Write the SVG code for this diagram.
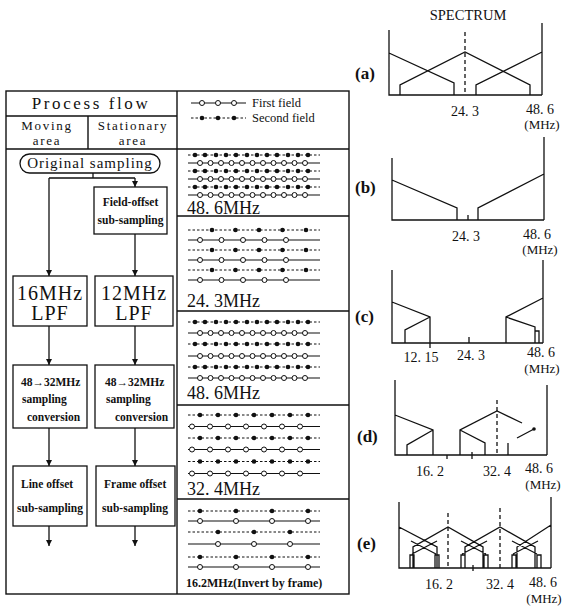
<svg xmlns="http://www.w3.org/2000/svg" width="568" height="606" viewBox="0 0 568 606">
<style>
text{font-family:"Liberation Serif","DejaVu Serif",serif;fill:#111}
.ln{stroke:#111;stroke-width:1.3;fill:none}
.fr{stroke:#111;stroke-width:1.4;fill:none}
.box{fill:#fff;stroke:#111;stroke-width:1.3}
.dash{stroke:#111;stroke-width:1;stroke-dasharray:2.5 2}
.sol{stroke:#111;stroke-width:1.1}
.sp{stroke:#111;stroke-width:1.3;fill:none}
.spd{stroke:#111;stroke-width:1.3;stroke-dasharray:4 3;fill:none}
.bt{font-size:11.5px;font-weight:bold}
.big{font-size:20px;letter-spacing:1px}
.sec{font-size:18px}
.num{font-size:14px;text-anchor:middle}
.mhz{font-size:13px;text-anchor:middle}
.lab{font-size:17px;font-weight:bold}
.hd{font-size:13px;letter-spacing:1.7px;text-anchor:middle}
</style>
<defs>
<marker id="ah" viewBox="0 0 8 8" refX="8" refY="4" markerWidth="6" markerHeight="7" orient="auto" markerUnits="userSpaceOnUse">
<path d="M0,0 L8,4 L0,8 Z" fill="#111"/>
</marker>
<circle id="d" r="2.3" fill="#111"/>
<circle id="o" r="2.5" fill="#fff" stroke="#111" stroke-width="1"/>
<g id="r48f"><line x1="188" y1="0" x2="320" y2="0" class="dash"/>
<use href="#d" x="195"/><use href="#d" x="205"/><use href="#d" x="216"/><use href="#d" x="226"/><use href="#d" x="236"/><use href="#d" x="247"/><use href="#d" x="257"/><use href="#d" x="267"/><use href="#d" x="277"/><use href="#d" x="288"/><use href="#d" x="298"/><use href="#d" x="308"/></g>
<g id="r48o"><line x1="188" y1="0" x2="320" y2="0" class="sol"/>
<use href="#o" x="200"/><use href="#o" x="210.5"/><use href="#o" x="221"/><use href="#o" x="231.5"/><use href="#o" x="242"/><use href="#o" x="252.5"/><use href="#o" x="263"/><use href="#o" x="273.5"/><use href="#o" x="284"/><use href="#o" x="294.5"/><use href="#o" x="305"/></g>
<g id="r24f"><line x1="188" y1="0" x2="320" y2="0" class="dash"/>
<use href="#d" x="212"/><use href="#d" x="235.5"/><use href="#d" x="259"/><use href="#d" x="282.5"/><use href="#d" x="306"/></g>
<g id="r24o"><line x1="188" y1="0" x2="320" y2="0" class="sol"/>
<use href="#o" x="200"/><use href="#o" x="221.5"/><use href="#o" x="243"/><use href="#o" x="264.5"/><use href="#o" x="286"/></g>
<g id="r32f"><line x1="188" y1="0" x2="320" y2="0" class="dash"/>
<use href="#d" x="200"/><use href="#d" x="218"/><use href="#d" x="236"/><use href="#d" x="254"/><use href="#d" x="272"/><use href="#d" x="290"/><use href="#d" x="308"/></g>
<g id="r32o"><line x1="188" y1="0" x2="320" y2="0" class="sol"/>
<use href="#o" x="192"/><use href="#o" x="210"/><use href="#o" x="228"/><use href="#o" x="246"/><use href="#o" x="264"/><use href="#o" x="282"/><use href="#o" x="300"/></g>
<g id="r16fA"><line x1="188" y1="0" x2="320" y2="0" class="dash"/>
<use href="#d" x="200"/><use href="#d" x="236"/><use href="#d" x="272"/><use href="#d" x="308"/></g>
<g id="r16oA"><line x1="188" y1="0" x2="320" y2="0" class="sol"/>
<use href="#o" x="200"/><use href="#o" x="236"/><use href="#o" x="272"/><use href="#o" x="308"/></g>
<g id="r16fB"><line x1="188" y1="0" x2="320" y2="0" class="dash"/>
<use href="#d" x="218"/><use href="#d" x="254"/><use href="#d" x="290"/></g>
<g id="r16oB"><line x1="188" y1="0" x2="320" y2="0" class="sol"/>
<use href="#o" x="218"/><use href="#o" x="254"/><use href="#o" x="290"/></g>
</defs>
<rect width="568" height="606" fill="#fff"/>

<g id="table">
<rect x="6" y="91" width="343" height="503" class="fr"/>
<path class="fr" d="M177,91 V594 M6,116 H177 M88,116 V149 M6,149 H349 M177,216 H349 M177,311 H349 M177,405 H349 M177,499 H349"/>
<text x="91" y="109" font-size="17" letter-spacing="2.6" text-anchor="middle">Process flow</text>
<text x="47" y="130" class="hd">Moving</text>
<text x="47" y="145" class="hd">area</text>
<text x="133" y="130" class="hd">Stationary</text>
<text x="133" y="145" class="hd">area</text>
</g>

<g id="legend">
<line x1="191" y1="103" x2="246" y2="103" class="sol"/>
<use href="#o" x="202" y="103"/><use href="#o" x="218" y="103"/><use href="#o" x="234" y="103"/>
<text x="252" y="107" font-size="12.5">First field</text>
<line x1="191" y1="118" x2="246" y2="118" class="dash"/>
<use href="#d" x="202" y="118"/><use href="#d" x="218" y="118"/><use href="#d" x="234" y="118"/>
<text x="252" y="122" font-size="12.5">Second field</text>
</g>

<g id="connectors">
<path class="ln" d="M93,173 V178 M49,178 H135"/>
<line class="ln" x1="49" y1="178" x2="49" y2="276" marker-end="url(#ah)"/>
<line class="ln" x1="135" y1="178" x2="135" y2="187" marker-end="url(#ah)"/>
<line class="ln" x1="135" y1="234" x2="135" y2="276" marker-end="url(#ah)"/>
<line class="ln" x1="49" y1="326" x2="49" y2="365" marker-end="url(#ah)"/>
<line class="ln" x1="135" y1="326" x2="135" y2="365" marker-end="url(#ah)"/>
<line class="ln" x1="49" y1="428" x2="49" y2="466" marker-end="url(#ah)"/>
<line class="ln" x1="135" y1="428" x2="135" y2="466" marker-end="url(#ah)"/>
<line class="ln" x1="49" y1="526" x2="49" y2="546" marker-end="url(#ah)"/>
<line class="ln" x1="135" y1="526" x2="135" y2="546" marker-end="url(#ah)"/>
</g>

<g id="n-original">
<rect x="20" y="154" width="140" height="19" rx="9.5" class="box"/>
<text x="90" y="168" font-size="15" letter-spacing="1" text-anchor="middle">Original sampling</text>
</g>
<g id="n-fieldoffset">
<rect x="94" y="187" width="73" height="47" class="box"/>
<text x="130.5" y="206" class="bt" text-anchor="middle">Field-offset</text>
<text x="130.5" y="224" class="bt" text-anchor="middle">sub-sampling</text>
</g>
<g id="n-lpf16">
<rect x="13" y="276" width="74" height="50" class="box"/>
<text x="50" y="300" class="big" text-anchor="middle">16MHz</text>
<text x="50" y="320" class="big" text-anchor="middle">LPF</text>
</g>
<g id="n-lpf12">
<rect x="95" y="276" width="78" height="50" class="box"/>
<text x="134" y="300" class="big" text-anchor="middle">12MHz</text>
<text x="134" y="320" class="big" text-anchor="middle">LPF</text>
</g>
<g id="n-conv-moving">
<rect x="13" y="365" width="74" height="63" class="box"/>
<text x="21" y="386" class="bt">48→32MHz</text>
<text x="22" y="403" class="bt">sampling</text>
<text x="27" y="421" class="bt">conversion</text>
</g>
<g id="n-conv-stationary">
<rect x="95" y="365" width="79" height="63" class="box"/>
<text x="105" y="386" class="bt">48→32MHz</text>
<text x="106" y="403" class="bt">sampling</text>
<text x="115" y="421" class="bt">conversion</text>
</g>
<g id="n-lineoffset">
<rect x="13" y="466" width="74" height="60" class="box"/>
<text x="21" y="488" class="bt">Line offset</text>
<text x="50" y="512" class="bt" text-anchor="middle">sub-sampling</text>
</g>
<g id="n-frameoffset">
<rect x="96" y="466" width="79" height="60" class="box"/>
<text x="104" y="488" class="bt">Frame offset</text>
<text x="135" y="512" class="bt" text-anchor="middle">sub-sampling</text>
</g>

<g id="s-48a">
<use href="#r48f" y="155"/><use href="#r48o" y="163"/><use href="#r48f" y="171"/><use href="#r48o" y="179"/><use href="#r48f" y="187"/><use href="#r48o" y="195"/>
<text x="187" y="214" class="sec">48. 6MHz</text>
</g>
<g id="s-24">
<use href="#r24f" y="230"/><use href="#r24o" y="240"/><use href="#r24f" y="250"/><use href="#r24o" y="260"/><use href="#r24f" y="270"/><use href="#r24o" y="280"/>
<text x="187" y="307" class="sec">24. 3MHz</text>
</g>
<g id="s-48b">
<use href="#r48f" y="322"/><use href="#r48o" y="333"/><use href="#r48f" y="344"/><use href="#r48o" y="356"/><use href="#r48f" y="367"/><use href="#r48o" y="378"/>
<text x="187" y="399" class="sec">48. 6MHz</text>
</g>
<g id="s-32">
<use href="#r32f" y="415"/><use href="#r32o" y="426.5"/><use href="#r32f" y="438"/><use href="#r32o" y="449.5"/><use href="#r32f" y="461.5"/><use href="#r32o" y="473.5"/>
<text x="187" y="495" class="sec">32. 4MHz</text>
</g>
<g id="s-16">
<use href="#r16fA" y="511"/><use href="#r16oA" y="521"/><use href="#r16fB" y="532"/><use href="#r16oB" y="544"/><use href="#r16fA" y="557"/><use href="#r16oA" y="567"/>
<text x="186" y="587" font-size="12" font-weight="bold">16.2MHz(Invert by frame)</text>
</g>

<g id="spectrum">
<text x="468" y="20" font-size="14.5" text-anchor="middle">SPECTRUM</text>
<g id="sp-a">
<text x="355" y="79" class="lab">(a)</text>
<path class="sp" d="M389,30 V95 H542 M542,23 V95 M389,53 L454,83 V95 M400,95 V85 L465,52 L530,85 V95 M476,95 V85 L542,52"/>
<line class="spd" x1="465" y1="32" x2="465" y2="95"/>
<text x="465" y="116" class="num">24. 3</text>
<text x="540" y="114" class="num">48. 6</text>
<text x="542" y="129" class="mhz">(MHz)</text>
</g>
<g id="sp-b">
<text x="355" y="193" class="lab">(b)</text>
<path class="sp" d="M392,158 V220 H544 M544,137 V220 M392,180 L457,208 V220 M478,220 V208 L544,174 M468,215 V220"/>
<text x="466" y="241" class="num">24. 3</text>
<text x="537" y="239" class="num">48. 6</text>
<text x="540" y="254" class="mhz">(MHz)</text>
</g>
<g id="sp-c">
<text x="355" y="322" class="lab">(c)</text>
<path class="sp" d="M392,270 V343 H543 M543,260 V343 M392,302 L430,317 V348 M405,343 V330 L430,317 M543,298 L506,317 V343 M506,317 L535,327 V343 M535,331 H539 V343 M469,337 V343"/>
<text x="421" y="362" class="num">12. 15</text>
<text x="471" y="360" class="num">24. 3</text>
<text x="541" y="357" class="num">48. 6</text>
<text x="542" y="373" class="mhz">(MHz)</text>
</g>
<g id="sp-d">
<text x="357" y="442" class="lab">(d)</text>
<path class="sp" d="M395,380 V455 H547 M547,385 V455 M395,415 L433,430 V455 M407,455 V445 L433,430 M460,455 V430 L497,411 L522,423 M460,430 L485,443 V455 M508,455 V443 M517,438 L534,429 M447,455 V459 M472,452 V459"/>
<circle cx="534" cy="429" r="1.8" fill="#111"/>
<line class="spd" x1="497" y1="400" x2="497" y2="455"/>
<text x="430" y="476" class="num">16. 2</text>
<text x="497" y="476" class="num">32. 4</text>
<text x="539" y="473" class="num">48. 6</text>
<text x="543" y="489" class="mhz">(MHz)</text>
</g>
<g id="sp-e">
<text x="357" y="549" class="lab">(e)</text>
<path class="sp" d="M399,502 V568 H551 M551,497 V568 M399,527 L437,547 V568 M413,568 V547 L448,527 L483,547 V568 M465,568 V547 L500,527 L535,547 V568 M517,568 V547 L551,525 M411,541 L436,554 M412,554 L437,541 M461,541 L486,554 M462,554 L487,541 M512,541 L537,554 M513,554 L538,541 M410,568 V555 H414 V568 M435,568 V555 H439 V568 M461,568 V555 H465 V568 M484,568 V555 H488 V568 M512,568 V555 H516 V568 M537,568 V555 H541 V568 M473,565 V571"/>
<line class="spd" x1="448" y1="513" x2="448" y2="568"/>
<line class="spd" x1="500" y1="508" x2="500" y2="568"/>
<text x="439" y="589" class="num">16. 2</text>
<text x="500" y="589" class="num">32. 4</text>
<text x="543" y="587" class="num">48. 6</text>
<text x="544" y="603" class="mhz">(MHz)</text>
</g>
</g>
</svg>
